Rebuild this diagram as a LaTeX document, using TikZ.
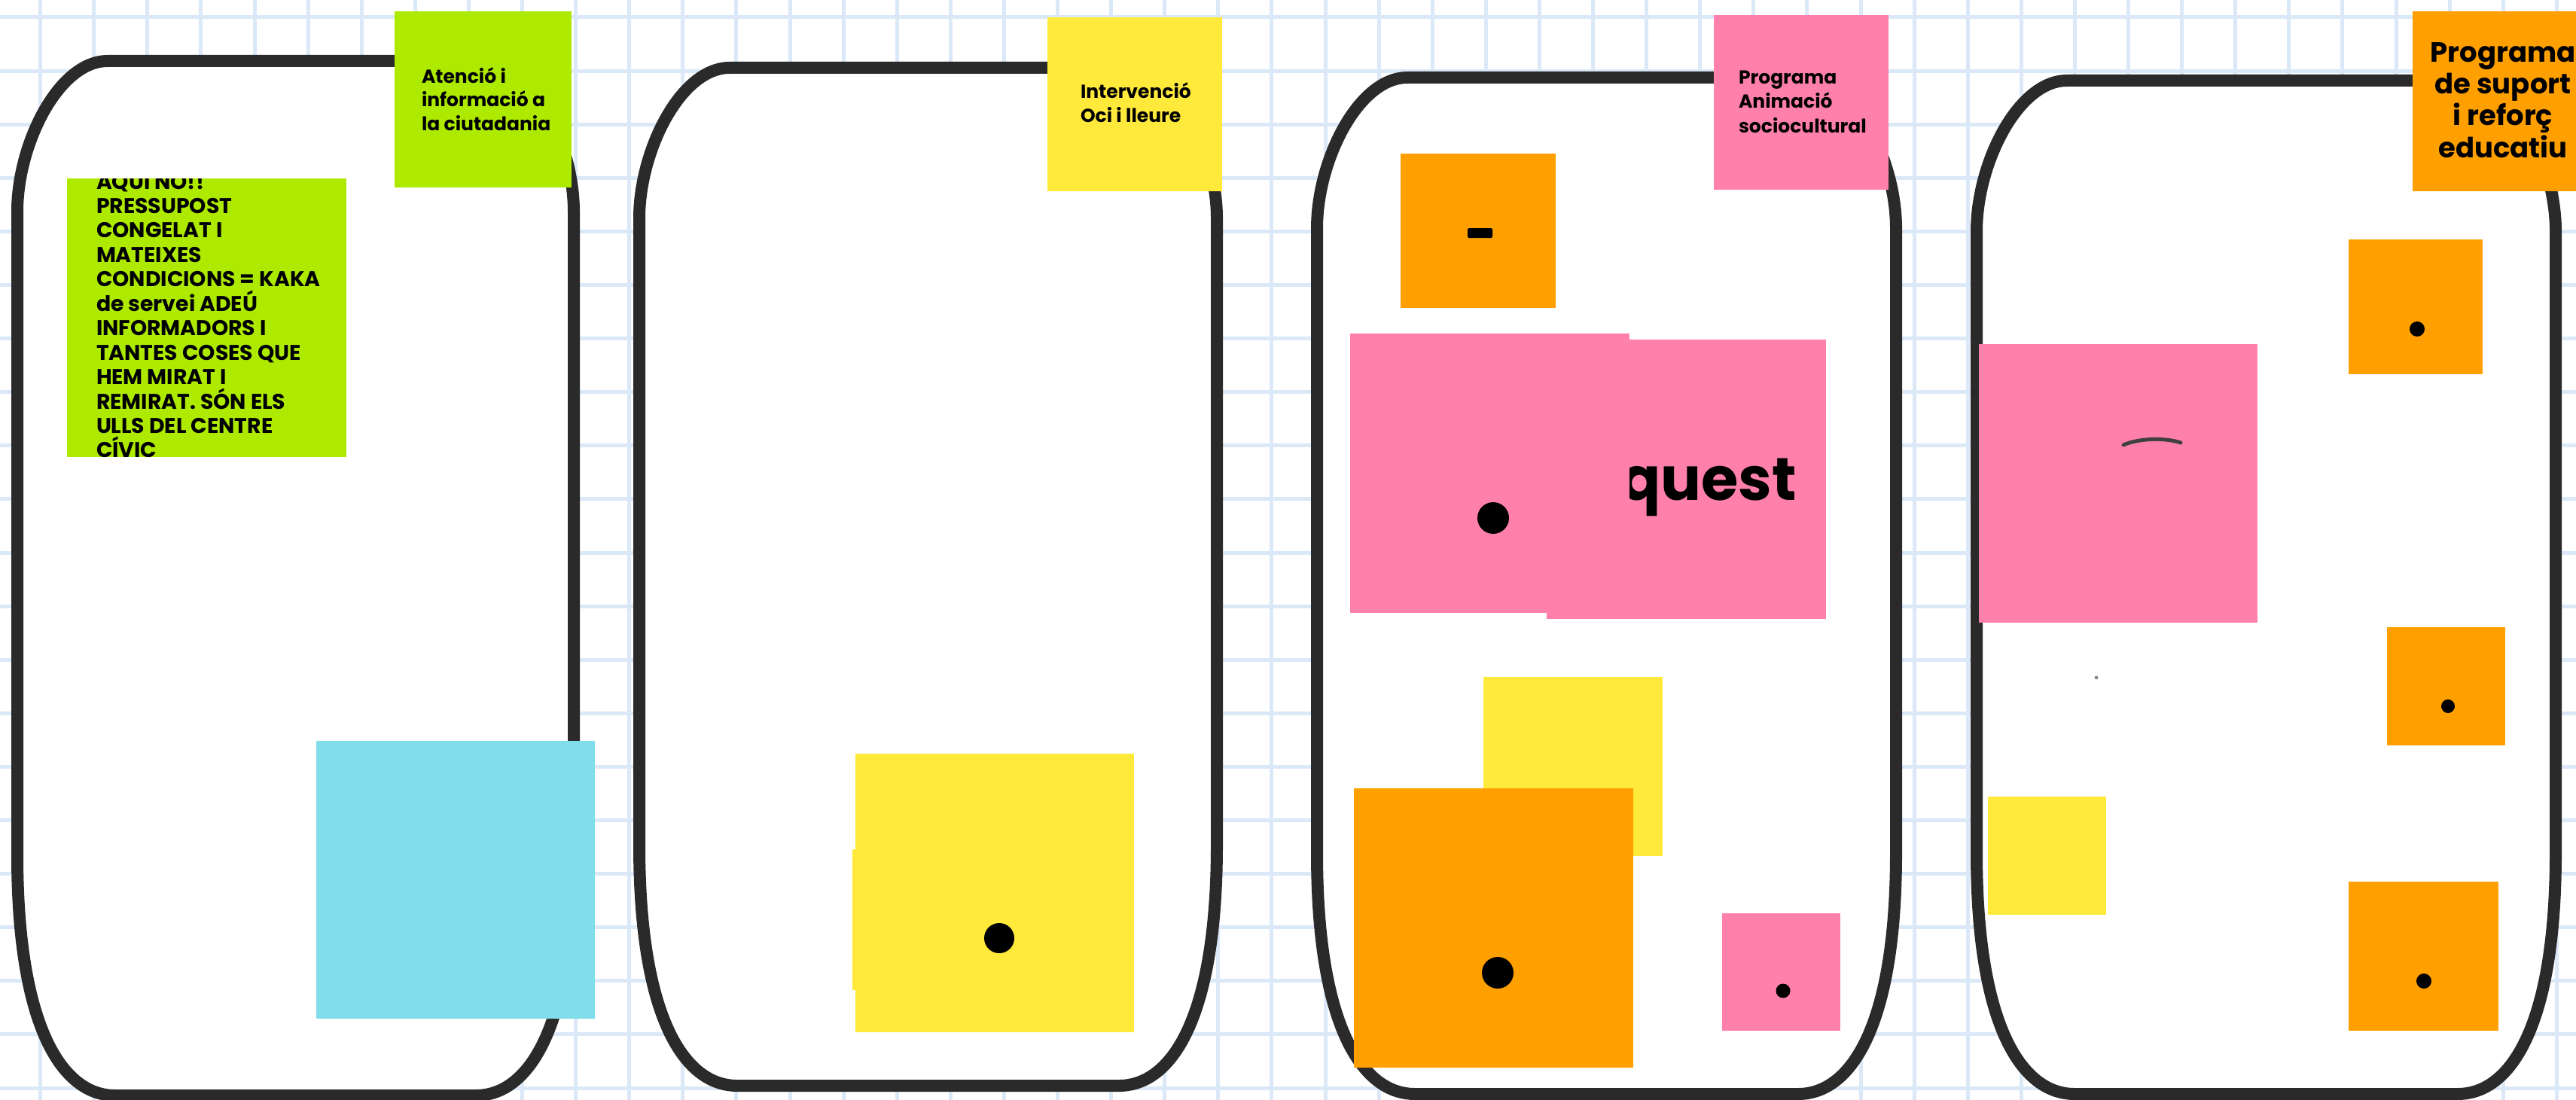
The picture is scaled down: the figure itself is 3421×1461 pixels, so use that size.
\documentclass[tikz,border=0pt]{standalone}
\usepackage{fontspec}
\setmainfont{Poppins}
\definecolor{limec}{HTML}{AEEA00}
\definecolor{yellowc}{HTML}{FFE93B}
\definecolor{pinkc}{HTML}{FF80AB}
\definecolor{orangec}{HTML}{FFA000}
\definecolor{cyanc}{HTML}{80DEEA}
\definecolor{gridc}{HTML}{DAE8F8}
\definecolor{jarc}{HTML}{2A2A2A}
\newcommand\stickynote[6]{\node[note, fill=#2, minimum width={#5-#3}, minimum height={#6-#4}] (#1) at (#3,#4) {};}
\newcommand\blackdot[4]{\node[dotnode, minimum size={2*#4}] (#1) at (#2,#3) {};}
\newcommand\jarpath[4]{%
  \draw[jarline] ({#1+120},#2) -- ({#3-120},#2)
    .. controls ({#3-55},#2) and (#3,{#2+110}) .. (#3,{#2+200})
    -- (#3,{#4-320})
    .. controls (#3,{#4-90}) and ({#3-60},#4) .. ({#3-130},#4)
    -- ({#1+130},#4)
    .. controls ({#1+60},#4) and (#1,{#4-90}) .. (#1,{#4-320})
    -- (#1,{#2+200})
    .. controls (#1,{#2+110}) and ({#1+55},#2) .. ({#1+120},#2) -- cycle;}
\begin{document}
\begin{tikzpicture}[x=1pt,y=-1pt,
  note/.style={rectangle, draw=none, inner sep=0pt, outer sep=0pt, anchor=north west},
  dotnode/.style={circle, fill=black, draw=none, inner sep=0pt, outer sep=0pt},
  jarline/.style={draw=jarc, line width=16pt, fill=white, line join=round},
  gridline/.style={draw=gridc, line width=5pt},
  ttl/.style={inner sep=0pt, outer sep=0pt, anchor=base west, text=black, font=\bfseries\fontsize{25}{30}\selectfont},
  bigtxt/.style={inner sep=0pt, outer sep=0pt, anchor=base west, text=black, font=\bfseries\fontsize{28.3}{32}\selectfont},
  ttlbig/.style={inner sep=0pt, outer sep=0pt, anchor=base, text=black, font=\bfseries\fontsize{37}{42}\selectfont},
  huge/.style={inner sep=0pt, outer sep=0pt, anchor=base east, text=black, font=\bfseries\fontsize{80}{90}\selectfont},
  pen/.style={draw=black!75, line width=5pt, line cap=round}
]
\useasboundingbox (0,0) rectangle (3421,1461);
\clip (0,0) rectangle (3421,1461);
\fill[white] (0,0) rectangle (3421,1461);
% grid
\foreach \i in {0,...,48} {\draw[gridline] ({-17.5+71.1*\i},0) -- ({-17.5+71.1*\i},1461);}
\foreach \j in {0,...,20} {\draw[gridline] (0,{23+71.1*\j}) -- (3421,{23+71.1*\j});}
% jars
\jarpath{23}{81}{762}{1455}
\jarpath{849}{90}{1616}{1442}
\jarpath{1749}{103}{2518}{1453}
\jarpath{2625}{107}{3394}{1453}
% ---- jar 1
\stickynote{n1title}{limec}{524}{15}{759}{249}
\node[ttl] (t1a) at (560,111) {Atenció i};
\node[ttl] (t1b) at (560,142) {informació a};
\node[ttl] (t1c) at (560,173) {la ciutadania};
\stickynote{n1big}{limec}{89}{237}{460}{607}
\begin{scope}
\clip (89,237) rectangle (460,607);
\foreach \t [count=\k from 0] in {AQUÍ NO!!,PRESSUPOST,CONGELAT I,MATEIXES,CONDICIONS = KAKA,de servei ADEÚ,INFORMADORS I,TANTES COSES QUE,HEM MIRAT I,REMIRAT. SÓN ELS,ULLS DEL CENTRE,CÍVIC}
  {\node[bigtxt] (g\k) at (128,{251+32.45*\k}) {\t};}
\end{scope}
\stickynote{n1cyan}{cyanc}{420}{984}{790}{1353}
% ---- jar 2
\stickynote{n2title}{yellowc}{1391}{23}{1623}{254}
\node[ttl] (t2a) at (1435,131) {Intervenció};
\node[ttl] (t2b) at (1435,163) {Oci i lleure};
\stickynote{n2back}{yellowc}{1132}{1128}{1142}{1315}
\stickynote{n2big}{yellowc}{1136}{1001}{1506}{1371}
\blackdot{d2}{1327}{1246}{20}
% ---- jar 3
\stickynote{n3title}{pinkc}{2276}{20}{2508}{252}
\node[ttl] (t3a) at (2309,112) {Programa};
\node[ttl] (t3b) at (2309,144) {Animació};
\node[ttl] (t3c) at (2309,176) {sociocultural};
\stickynote{n3dash}{orangec}{1860}{204}{2066}{409}
\fill[black, rounded corners=2pt] (1949,303) rectangle (1982,316);
\stickynote{n3quest}{pinkc}{2054}{451}{2425}{822}
\node[huge] (tq) at (2386,664) {quest};
\stickynote{n3left}{pinkc}{1793}{443}{2164}{814}
\blackdot{d3a}{1983}{688}{21}
\stickynote{n3yellow}{yellowc}{1970}{899}{2208}{1137}
\stickynote{n3orange}{orangec}{1798}{1047}{2169}{1418}
\blackdot{d3b}{1989}{1292}{21}
\stickynote{n3small}{pinkc}{2287}{1213}{2444}{1369}
\blackdot{d3c}{2368}{1316}{9.5}
% ---- jar 4
\stickynote{n4title}{orangec}{3204}{15}{3444}{254}
\node[ttlbig] (t4a) at (3324,83) {Programa};
\node[ttlbig] (t4b) at (3324,125) {de suport};
\node[ttlbig] (t4c) at (3324,167) {i reforç};
\node[ttlbig] (t4d) at (3324,209) {educatiu};
\stickynote{n4o1}{orangec}{3119}{318}{3297}{497}
\blackdot{d4a}{3210}{437}{10}
\stickynote{n4pink}{pinkc}{2628}{457}{2998}{827}
\draw[pen] (2820,591) .. controls (2840,582) and (2875,581) .. (2896,588);
\fill[black!45] (2784,900) circle (2.5pt);
\stickynote{n4o2}{orangec}{3170}{833}{3327}{990}
\blackdot{d4b}{3251}{938}{9}
\stickynote{n4yellow}{yellowc}{2640}{1058}{2797}{1215}
\stickynote{n4o3}{orangec}{3119}{1171}{3318}{1369}
\blackdot{d4c}{3219}{1303}{10}
\end{tikzpicture}
\end{document}
